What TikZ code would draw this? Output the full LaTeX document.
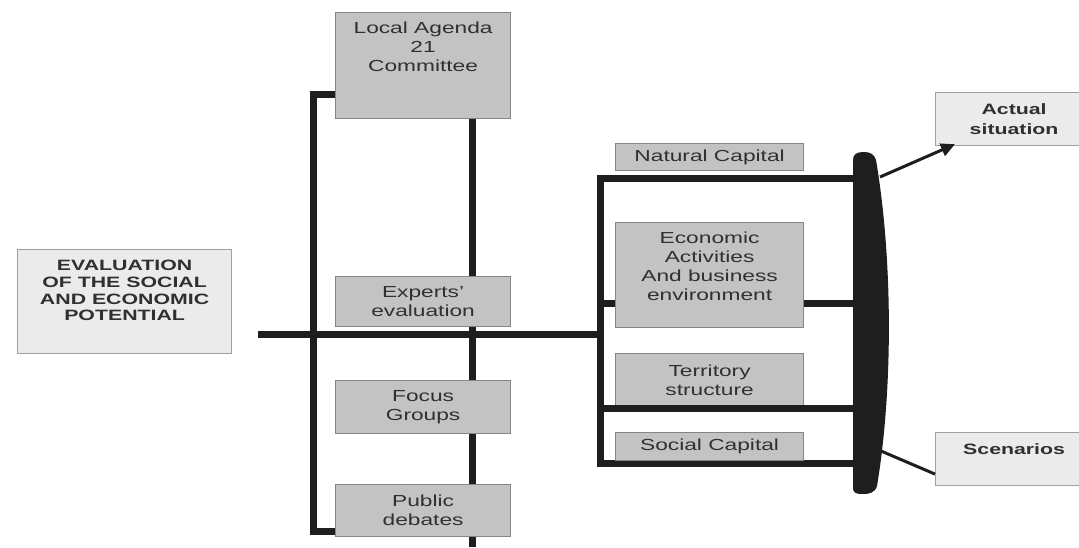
\documentclass[tikz,border=0pt]{standalone}
\usepackage{fontspec}
\setmainfont{Liberation Sans}[FakeStretch=1.42]
\usetikzlibrary{calc,arrows.meta}
\pgfdeclarelayer{background}
\pgfsetlayers{background,main}
\definecolor{dk}{HTML}{1E1E1E}
\definecolor{gfill}{HTML}{C3C3C3}
\definecolor{gline}{HTML}{858585}
\definecolor{lfill}{HTML}{EBEBEB}
\definecolor{lline}{HTML}{A0A0A0}
\definecolor{txt}{HTML}{303030}
\begin{document}
\begin{tikzpicture}[x=1pt,y=-1pt,
  gbox/.style={draw=gline, fill=gfill, line width=1.2pt, inner sep=0pt, anchor=north west, align=center, text=txt, font=\fontsize{16}{19}\selectfont},
  lbox/.style={draw=lline, fill=lfill, line width=1.2pt, inner sep=0pt, anchor=north west, align=center, text=txt, font=\bfseries\fontsize{15}{20}\selectfont},
  thk/.style={draw=dk, line width=7pt, line join=miter},
  thn/.style={draw=dk, line width=3pt},
]
\begin{pgfonlayer}{background}
\fill[white] (0,0) rectangle (1079,547);
\end{pgfonlayer}
\useasboundingbox (0,0) rectangle (1079,547);

% boxes
\node[lbox, minimum width=214pt, minimum height=104pt, font=\bfseries\fontsize{15}{16.7}\selectfont] (ev) at (17,249)
  {EVALUATION\\OF THE SOCIAL\\AND ECONOMIC\\POTENTIAL\rule[-22pt]{0pt}{0pt}};
\node[gbox, minimum width=175pt, minimum height=106pt] (la) at (335,12) {Local Agenda\\21\\Committee\rule[-37pt]{0pt}{0pt}};
\node[gbox, minimum width=175pt, minimum height=50pt] (exp) at (335,276) {Experts'\\evaluation};
\node[gbox, minimum width=175pt, minimum height=53pt] (foc) at (335,380) {Focus\\Groups};
\node[gbox, minimum width=175pt, minimum height=52pt] (pub) at (335,484) {Public\\debates};
\node[gbox, minimum width=188pt, minimum height=27pt] (nat) at (615,143) {Natural Capital};
\node[gbox, minimum width=188pt, minimum height=105pt] (eco) at (615,222) {Economic\\Activities\\And business\\environment\rule[-17pt]{0pt}{0pt}};
\node[gbox, minimum width=188pt, minimum height=54pt] (ter) at (615,353) {Territory\\structure};
\node[gbox, minimum width=188pt, minimum height=28pt] (soc) at (615,432) {Social Capital};
\node[lbox, minimum width=157pt, minimum height=53pt] (act) at (935,92) {Actual\\situation};
\node[lbox, minimum width=157pt, minimum height=53pt] (scn) at (935,432) {Scenarios\rule[-20pt]{0pt}{0pt}};

% coordinates
\coordinate (lx) at (313,0);
\coordinate (mx) at (472,0);
\coordinate (rx) at (600,0);
\coordinate (dx) at (855,0);
\coordinate (m0) at (258,334);
\coordinate (bot) at (472,547);
\coordinate (r1) at (600,178);
\coordinate (r2) at (600,303);
\coordinate (r4) at (600,463);
\coordinate (dU) at (880,177);
\coordinate (dL) at (881,451);
\coordinate (la1) at ($(la.south west)+(0,-25)$);
\coordinate (pb1) at ($(pub.south west)+(0,-6)$);

% connectors behind the boxes
\begin{pgfonlayer}{background}
\draw[thk] (la1) -| (lx |- pb1) -- (pb1);
\draw[thk] (la.south -| mx) -- (bot);
\draw[thk] (m0) -- (m0 -| rx);
\draw[thk] (r1 -| dx) -- (r1) -- (r4) -- (r4 -| dx);
\draw[thk] (r2) -- (r2 -| dx);
\end{pgfonlayer}

% connector over the territory box edge
\draw[thk] (rx |- ter.south) -- (dx |- ter.south);

% dark bar
\fill[dk] (853,488) -- (853,160) .. controls (853,154) and (857,152) .. (864,152)
  .. controls (870,152) and (874,154) .. (876,160)
  .. controls (893,260) and (893,390) .. (877,486)
  .. controls (875,493) and (869,494) .. (863,494)
  .. controls (856,494) and (853,493) .. (853,488) -- cycle;

% outputs
\draw[thn, -{Triangle[length=14pt,width=13pt]}] (dU) -- ($(act.south west)+(20,-2)$);
\draw[thn] (dL) -- ($(scn.west)+(0,15)$);
\end{tikzpicture}
\end{document}
